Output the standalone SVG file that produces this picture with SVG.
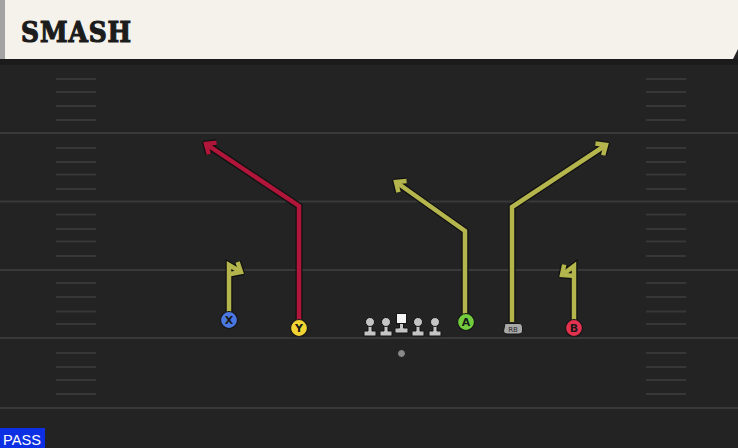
<svg xmlns="http://www.w3.org/2000/svg" width="738" height="448" viewBox="0 0 738 448">
<defs>
<style>
.yl{stroke:#393939;stroke-width:2}
.out{fill:none;stroke:#111111;stroke-width:7;stroke-linejoin:miter;stroke-linecap:butt}
.ry{fill:none;stroke:#b4b54c;stroke-width:4.5;stroke-linejoin:miter}
.rr{fill:none;stroke:#b0163a;stroke-width:4.5;stroke-linejoin:miter}
.lbl{font-family:"DejaVu Sans",sans-serif;font-weight:bold;font-size:11px;fill:#1a1a1a;text-anchor:middle}
.ol{fill:#c4c4c4;stroke:#151515;stroke-width:1}
</style>
<marker id="ao" markerUnits="userSpaceOnUse" viewBox="-12 -10 16 20" markerWidth="16" markerHeight="20" refX="0" refY="0" orient="auto"><path d="M-8,-7 L0,0 L-8,7" fill="none" stroke="#111111" stroke-width="7"/></marker>
<marker id="ay" markerUnits="userSpaceOnUse" viewBox="-12 -10 16 20" markerWidth="16" markerHeight="20" refX="0" refY="0" orient="auto"><path d="M-8,-7 L0,0 L-8,7" fill="none" stroke="#b4b54c" stroke-width="4.5"/></marker>
<marker id="ar" markerUnits="userSpaceOnUse" viewBox="-12 -10 16 20" markerWidth="16" markerHeight="20" refX="0" refY="0" orient="auto"><path d="M-8,-7 L0,0 L-8,7" fill="none" stroke="#b0163a" stroke-width="4.5"/></marker>
</defs>
<rect width="738" height="448" fill="#232323"/>
<g id="field">
<rect x="0" y="59" width="738" height="6" fill="#1b1b1b"/>
<line class="yl" x1="0" y1="133" x2="738" y2="133"/>
<line class="yl" x1="0" y1="201.5" x2="738" y2="201.5"/>
<line class="yl" x1="0" y1="270" x2="738" y2="270"/>
<line class="yl" x1="0" y1="338" x2="738" y2="338"/>
<line class="yl" x1="0" y1="408" x2="738" y2="408"/>
<path d="M56,79H96M56,92H96M56,106H96M56,120H96M56,148H96M56,162H96M56,174.5H96M56,189H96M56,214.5H96M56,229H96M56,241.5H96M56,256H96M56,283H96M56,297H96M56,311.5H96M56,324H96M56,353H96M56,367H96M56,380H96M56,394H96" stroke="#373737" stroke-width="2"/>
<path d="M646,79H686M646,92H686M646,106H686M646,120H686M646,148H686M646,162H686M646,174.5H686M646,189H686M646,214.5H686M646,229H686M646,241.5H686M646,256H686M646,283H686M646,297H686M646,311.5H686M646,324H686M646,353H686M646,367H686M646,380H686M646,394H686" stroke="#373737" stroke-width="2"/>
</g>
<g id="header">
<polygon points="0,0 738,0 738,49 733,59 0,59" fill="#f5f2ec"/>
<rect x="0" y="0" width="5" height="59" fill="#a3a3a3"/>
<text x="21" y="42" font-family="'DejaVu Serif',serif" font-weight="bold" font-size="27" fill="#1c1c1c" stroke="#1c1c1c" stroke-width="1.2" letter-spacing="1" textLength="111" lengthAdjust="spacingAndGlyphs">SMASH</text>
</g>
<g id="connectors">
<path class="out" d="M229,312 V265 L241,272" marker-end="url(#ao)"/>
<path class="ry" d="M229,312 V265 L241,272" marker-end="url(#ay)"/>
<path class="out" d="M299,320 V206 L206,144" marker-end="url(#ao)"/>
<path class="rr" d="M299,320 V206 L206,144" marker-end="url(#ar)"/>
<path class="out" d="M465,314 V231 L396,182" marker-end="url(#ao)"/>
<path class="ry" d="M465,314 V231 L396,182" marker-end="url(#ay)"/>
<path class="out" d="M512,322 V207 L606,145" marker-end="url(#ao)"/>
<path class="ry" d="M512,322 V207 L606,145" marker-end="url(#ay)"/>
<path class="out" d="M574,320 V266 L562,275" marker-end="url(#ao)"/>
<path class="ry" d="M574,320 V266 L562,275" marker-end="url(#ay)"/>
</g>
<g id="X"><circle cx="229" cy="320" r="8.5" fill="#4a78e0" stroke="#151515" stroke-width="1.2"/><text class="lbl" x="229" y="324">X</text></g>
<g id="Y"><circle cx="299" cy="328" r="8.5" fill="#f2d334" stroke="#151515" stroke-width="1.2"/><text class="lbl" x="299" y="332">Y</text></g>
<g id="A"><circle cx="466" cy="322" r="8.5" fill="#72cc3e" stroke="#151515" stroke-width="1.2"/><text class="lbl" x="466" y="326">A</text></g>
<g id="B"><circle cx="574" cy="328" r="8.5" fill="#e2324f" stroke="#151515" stroke-width="1.2"/><text class="lbl" x="574" y="332">B</text></g>
<g id="RB"><path d="M505,323.5 H519 Q522.5,323.5 522.5,328 V331 Q522.5,334 519,334 H507 Q503.5,334 503.5,331 Z" fill="#a8a8a8" stroke="#151515" stroke-width="1"/><text x="513" y="332" font-family="'DejaVu Sans',sans-serif" font-size="7" fill="#2a2a2a" text-anchor="middle">RB</text></g>
<g id="LT"><path class="ol" d="M368,322 V331 H364 V336 H376 V331 H372 V322 Z"/><circle cx="370" cy="322" r="4.5" fill="#c4c4c4" stroke="#151515" stroke-width="1"/></g>
<g id="LG"><path class="ol" d="M384,322 V331 H380 V336 H392 V331 H388 V322 Z"/><circle cx="386" cy="322" r="4.5" fill="#c4c4c4" stroke="#151515" stroke-width="1"/></g>
<g id="C"><path class="ol" d="M399.5,323 V328 H395 V333 H408 V328 H403.5 V323 Z"/><rect x="396.5" y="313.5" width="10" height="10" fill="#f4f4f4" stroke="#151515" stroke-width="1"/></g>
<g id="RG"><path class="ol" d="M416,322 V331 H412 V336 H424 V331 H420 V322 Z"/><circle cx="418" cy="322" r="4.5" fill="#c4c4c4" stroke="#151515" stroke-width="1"/></g>
<g id="RT"><path class="ol" d="M433,322 V331 H429 V336 H441 V331 H437 V322 Z"/><circle cx="435" cy="322" r="4.5" fill="#c4c4c4" stroke="#151515" stroke-width="1"/></g>
<g id="ball"><circle cx="401.5" cy="353.5" r="4" fill="#8a8a8a" stroke="#151515" stroke-width="1"/></g>
<g id="pass"><rect x="0" y="428" width="45" height="20" fill="#0d2fe4"/><text x="3" y="445" font-family="'Liberation Sans',sans-serif" font-size="15" fill="#ffffff" textLength="38" lengthAdjust="spacingAndGlyphs">PASS</text></g>
</svg>
